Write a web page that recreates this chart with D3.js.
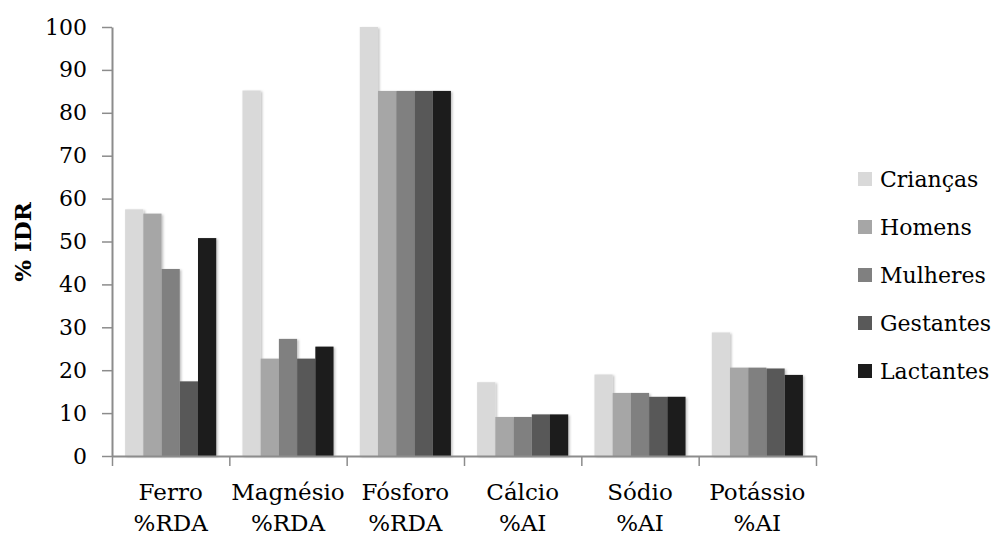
<!DOCTYPE html>
<html>
<head>
<meta charset="utf-8">
<script src="https://cdn.jsdelivr.net/npm/d3@7"></script>
<style>
  html, body { margin: 0; padding: 0; background: #fff; }
  svg { display: block; }
  text { font-family: "DejaVu Serif", "Liberation Serif", serif; fill: #000; }
</style>
</head>
<body>
<svg id="chart" width="994" height="535"></svg>
<script>
const categories = ["Ferro", "Magnésio", "Fósforo", "Cálcio", "Sódio", "Potássio"];
const categoryUnits = ["%RDA", "%RDA", "%RDA", "%AI", "%AI", "%AI"];
const seriesNames = ["Crianças", "Homens", "Mulheres", "Gestantes", "Lactantes"];
const criancas  = [57.5, 85.2, 100, 17.2, 19.0, 28.8];
const homens    = [56.5, 22.7, 85.1, 9.1, 14.7, 20.6];
const mulheres  = [43.6, 27.3, 85.1, 9.1, 14.7, 20.6];
const gestantes = [17.4, 22.7, 85.1, 9.7, 13.8, 20.4];
const lactantes = [50.8, 25.5, 85.1, 9.7, 13.8, 18.9];
const seriesColors = ["#d9d9d9", "#a6a6a6", "#808080", "#595959", "#1c1c1c"];
const yTicks = [0, 10, 20, 30, 40, 50, 60, 70, 80, 90, 100];
const yLabel = "% IDR";

const seriesValues = [criancas, homens, mulheres, gestantes, lactantes];

const svg = d3.select("#chart");
const mLeft = 112, mRight = 816, mTop = 27, mBottom = 456;

const defs = svg.append("defs");
const f = defs.append("filter").attr("id", "shadow")
  .attr("x", "-20%").attr("y", "-5%").attr("width", "140%").attr("height", "110%");
f.append("feDropShadow").attr("dx", 1.5).attr("dy", 1).attr("stdDeviation", 1.2)
  .attr("flood-color", "#000").attr("flood-opacity", 0.25);

const x0 = d3.scaleBand().domain(categories).range([mLeft, mRight]).paddingInner(0).paddingOuter(0);
const x1 = d3.scaleBand().domain(seriesNames).range([0, x0.bandwidth()]).paddingInner(0).paddingOuter(0.72);
const y = d3.scaleLinear().domain([0, 100]).range([mBottom, mTop]);
const color = d3.scaleOrdinal().domain(seriesNames).range(seriesColors);

// bars
const groups = svg.append("g").selectAll("g").data(categories).join("g")
  .attr("transform", d => `translate(${x0(d)},0)`);
groups.selectAll("rect")
  .data((c, ci) => seriesNames.map((s, si) => ({ s, v: seriesValues[si][ci] })))
  .join("rect")
  .attr("x", d => x1(d.s))
  .attr("width", x1.bandwidth())
  .attr("y", d => y(d.v))
  .attr("height", d => y(0) - y(d.v))
  .attr("fill", d => color(d.s))
  .attr("filter", "url(#shadow)");

// y axis
const yAxis = svg.append("g").attr("transform", `translate(${mLeft},0)`)
  .call(d3.axisLeft(y).tickValues(yTicks).tickSize(10).tickSizeOuter(0).tickPadding(15).tickFormat(d3.format("d")));
yAxis.select(".domain").attr("stroke", "#8c8c8c").attr("stroke-width", 2);
yAxis.selectAll(".tick line").attr("stroke", "#8c8c8c").attr("stroke-width", 1.5);
yAxis.selectAll(".tick text").style("font-size", "22px").style("font-family", "DejaVu Serif, serif").attr("fill", "#000");

// x axis boundaries
const xb = d3.scaleLinear().domain([0, categories.length]).range([mLeft, mRight]);
const xAxis = svg.append("g").attr("transform", `translate(0,${mBottom})`)
  .call(d3.axisBottom(xb).ticks(categories.length).tickSize(10).tickSizeOuter(0).tickFormat(""));
xAxis.select(".domain").attr("stroke", "#8c8c8c").attr("stroke-width", 2);
xAxis.selectAll(".tick line").attr("stroke", "#8c8c8c").attr("stroke-width", 1.5);

// x labels
const xl = svg.append("g").selectAll("text").data(categories).join("text")
  .attr("text-anchor", "middle")
  .style("font-size", "23px");
xl.append("tspan").attr("x", d => x0(d) + x0.bandwidth() / 2).attr("y", 500).text(d => d);
xl.append("tspan").attr("x", d => x0(d) + x0.bandwidth() / 2).attr("y", 531).text((d, i) => categoryUnits[i]);

// y label
svg.append("text")
  .attr("transform", "translate(31,242) rotate(-90)")
  .attr("text-anchor", "middle")
  .style("font-size", "23px").style("font-weight", "bold")
  .text(yLabel);

// legend
const lg = svg.append("g").selectAll("g").data(seriesNames).join("g")
  .attr("transform", (d, i) => `translate(858,${179 + i * 48})`);
lg.append("rect").attr("x", 0).attr("y", -7).attr("width", 14).attr("height", 14).attr("fill", d => color(d));
lg.append("text").attr("x", 22).attr("y", 8).style("font-size", "22px").text(d => d);
</script>
</body>
</html>
